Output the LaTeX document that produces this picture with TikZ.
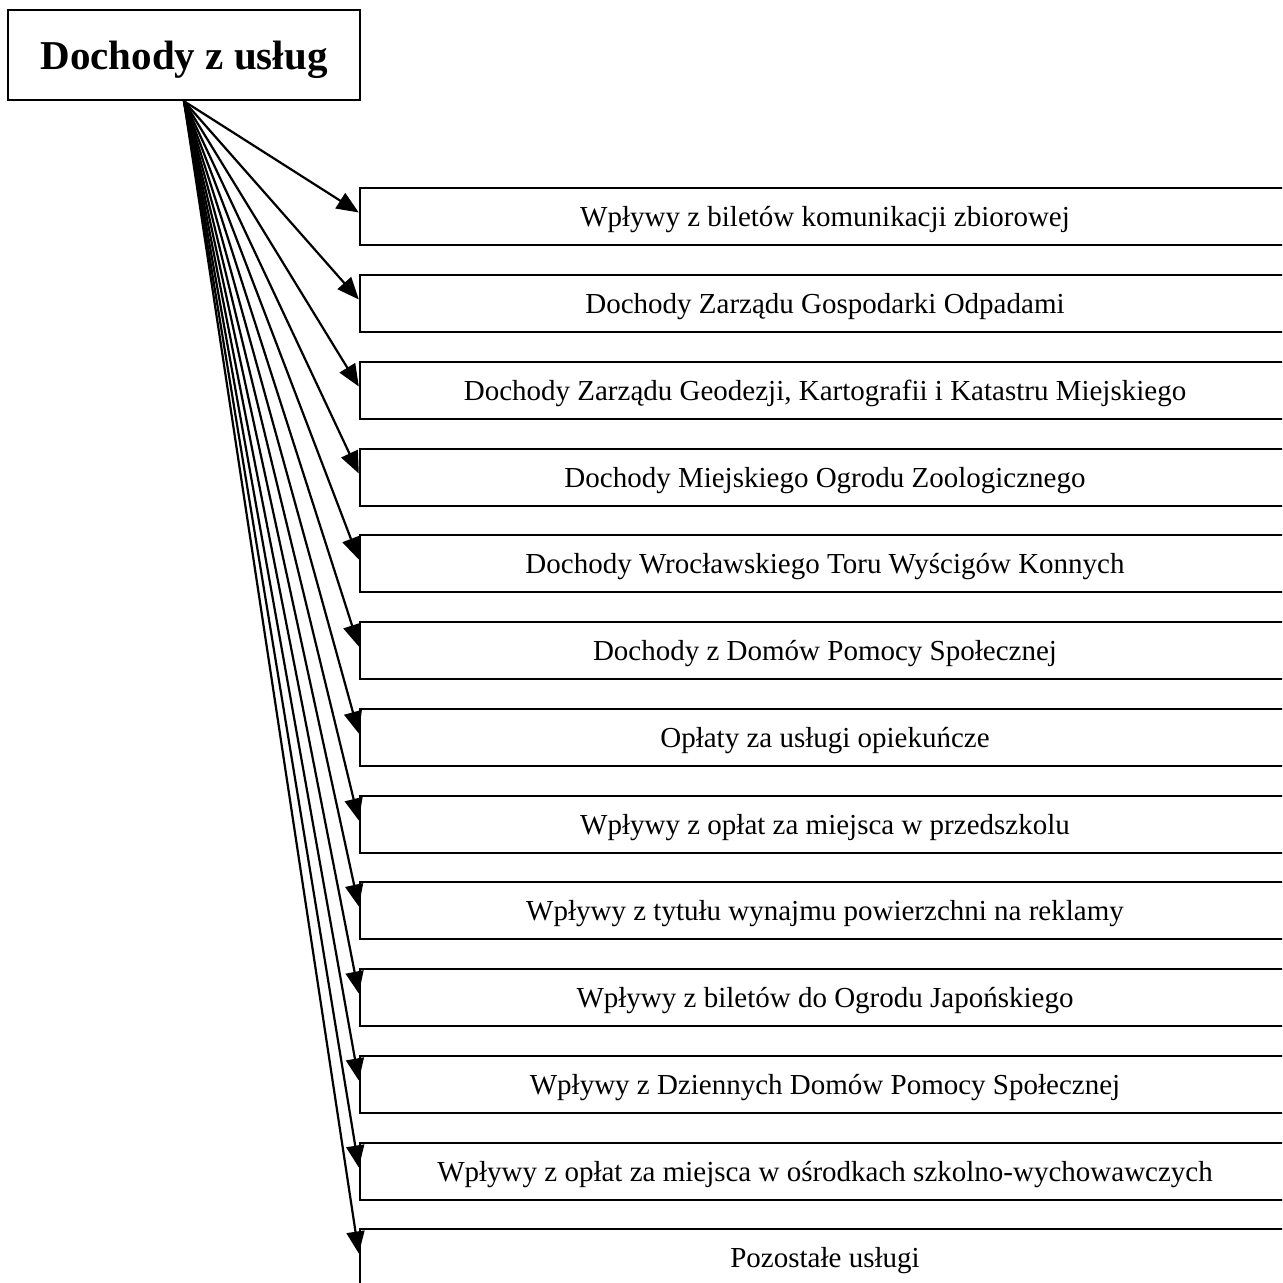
\documentclass[tikz,border=0pt]{standalone}
\usepackage{fontspec}
\setmainfont{Liberation Serif}
\usetikzlibrary{arrows.meta}

\begin{document}
\begin{tikzpicture}[x=0.5pt, y=-0.5pt,
		pozycja/.style={draw, line width=1.2pt, minimum width=465pt, minimum height=28.5pt, inner sep=0pt, text depth=0pt, font=\fontsize{14.5}{17}\selectfont},
		strzalka/.style={line width=1.1pt, -{Triangle[length=11pt, width=9pt]}}]
				\clip (0,0) rectangle (1282,1283);
				\node[draw, line width=1.2pt, minimum width=176pt, minimum height=45pt, inner sep=0pt, text depth=0pt, font=\fontsize{20.5}{24}\selectfont\bfseries] (D)at(184, 55) {Dochody z usług\hspace{5pt}};
				\node[pozycja] (A)at(825, 216.5) {Wpływy z biletów komunikacji zbiorowej};
				\node[pozycja] (B)at(825, 303.5) {Dochody Zarządu Gospodarki Odpadami};
				\node[pozycja] (C)at(825, 390.5) {Dochody Zarządu Geodezji, Kartografii i Katastru Miejskiego};
				\node[pozycja] (E)at(825, 477.5) {Dochody Miejskiego Ogrodu Zoologicznego};
				\node[pozycja] (F)at(825, 563.5) {Dochody Wrocławskiego Toru Wyścigów Konnych};
				\node[pozycja] (G)at(825, 650.5) {Dochody z Domów Pomocy Społecznej};
				\node[pozycja] (H)at(825, 737.5) {Opłaty za usługi opiekuńcze};
				\node[pozycja] (I)at(825, 824.5) {Wpływy z opłat za miejsca w przedszkolu};
				\node[pozycja] (J)at(825, 910.5) {Wpływy z tytułu wynajmu powierzchni na reklamy};
				\node[pozycja] (K)at(825, 997.5) {Wpływy z biletów do Ogrodu Japońskiego};
				\node[pozycja] (L)at(825, 1084.5) {Wpływy z Dziennych Domów Pomocy Społecznej};
				\node[pozycja] (M)at(825, 1171.5) {Wpływy z opłat za miejsca w ośrodkach szkolno-wychowawczych};
				\node[pozycja] (N)at(825, 1257.5) {Pozostałe usługi};
				\draw[strzalka] (D.south) -- ([yshift=2pt]A.west);
				\draw[strzalka] (D.south) -- ([yshift=2pt]B.west);
				\draw[strzalka] (D.south) -- ([yshift=2pt]C.west);
				\draw[strzalka] (D.south) -- ([yshift=2pt]E.west);
				\draw[strzalka] (D.south) -- ([yshift=2pt]F.west);
				\draw[strzalka] (D.south) -- ([yshift=2pt]G.west);
				\draw[strzalka] (D.south) -- ([yshift=2pt]H.west);
				\draw[strzalka] (D.south) -- ([yshift=2pt]I.west);
				\draw[strzalka] (D.south) -- ([yshift=2pt]J.west);
				\draw[strzalka] (D.south) -- ([yshift=2pt]K.west);
				\draw[strzalka] (D.south) -- ([yshift=2pt]L.west);
				\draw[strzalka] (D.south) -- ([yshift=2pt]M.west);
				\draw[strzalka] (D.south) -- ([yshift=2pt]N.west);
			\end{tikzpicture}
\end{document}
